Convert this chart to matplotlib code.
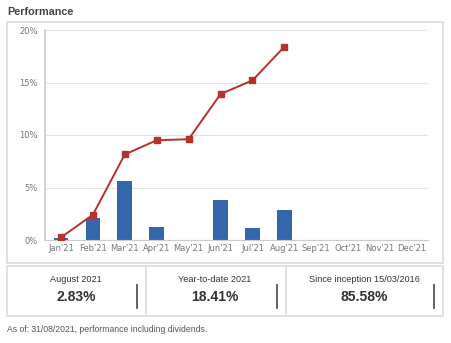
import matplotlib
matplotlib.use("Agg")
import matplotlib.pyplot as plt
from matplotlib.patches import Rectangle
from matplotlib.lines import Line2D
import numpy as np

months = ["Jan'21", "Feb'21", "Mar'21", "Apr'21", "May'21", "Jun'21",
          "Jul'21", "Aug'21", "Sep'21", "Oct'21", "Nov'21", "Dec'21"]
monthly = [0.2, 2.1, 5.6, 1.2, 0.0, 3.85, 1.15, 2.83]
cumulative = [0.25, 2.4, 8.15, 9.5, 9.6, 13.9, 15.2, 18.41]
yticks = [0, 5, 10, 15, 20]
ytick_labels = ["0%", "5%", "10%", "15%", "20%"]
stat_labels = ["August 2021", "Year-to-date 2021", "Since inception 15/03/2016"]
stat_values = ["2.83%", "18.41%", "85.58%"]
title = "Performance"
footer = "As of: 31/08/2021, performance including dividends."

W, H = 451, 343
fig = plt.figure(figsize=(W / 100, H / 100), dpi=100)
fig.patch.set_facecolor("white")

def fx(x):
    return x / W

def fy(y):
    return 1 - y / H

BORDER = "#dcdcdc"
# outer chart box
fig.patches.append(Rectangle((fx(7), fy(263)), fx(443) - fx(7), fy(22) - fy(263),
                             transform=fig.transFigure, fill=False, edgecolor=BORDER, lw=1.2))
# stats box
fig.patches.append(Rectangle((fx(7), fy(316)), fx(443) - fx(7), fy(266) - fy(316),
                             transform=fig.transFigure, fill=False, edgecolor=BORDER, lw=1.2))
for xd in [145.7, 285.7]:
    fig.add_artist(Line2D([fx(xd), fx(xd)], [fy(266), fy(316)], transform=fig.transFigure,
                          color=BORDER, lw=1.2))
for xb in [137, 277, 434]:
    fig.add_artist(Line2D([fx(xb), fx(xb)], [fy(285), fy(308)], transform=fig.transFigure,
                          color="#555555", lw=1.3))

centers = [76, 215, 364]
for cx, lab, val in zip(centers, stat_labels, stat_values):
    fig.text(fx(cx), fy(279), lab, ha="center", va="center", fontsize=6.6,
             family="Liberation Sans", color="#333333")
    fig.text(fx(cx), fy(297), val, ha="center", va="center", fontsize=10,
             family="Liberation Sans", weight="bold", color="#333333")

fig.text(fx(7), fy(12), title, ha="left", va="center", fontsize=7.8,
         family="Liberation Sans", weight="bold", color="#444444")
fig.text(fx(7), fy(330), footer, ha="left", va="center", fontsize=6.2,
         family="Liberation Sans", color="#555555")

ax = fig.add_axes([fx(45), fy(240), fx(428) - fx(45), fy(30) - fy(240)])
x = np.arange(len(months))
ax.bar(x[:len(monthly)], monthly, width=0.46, color="#3566ab", zorder=2)
ax.plot(x[:len(cumulative)], cumulative, color="#b5312b", lw=1.4, marker="s",
        markersize=4.5, zorder=3)
ax.set_xlim(-0.5, len(months) - 0.5)
ax.set_ylim(0, 20)
ax.set_yticks(yticks)
ax.set_yticklabels(ytick_labels)
ax.set_xticks(x)
ax.set_xticklabels(months)
ax.tick_params(axis="both", length=0, labelsize=6, colors="#777777")
ax.tick_params(axis="y", pad=5)
ax.tick_params(axis="x", pad=3)
ax.grid(axis="y", color="#e4e4e4", lw=0.8, zorder=0)
for s in ["top", "right"]:
    ax.spines[s].set_visible(False)
ax.spines["left"].set_color("#cccccc")
ax.spines["bottom"].set_color("#cccccc")
ax.spines["left"].set_linewidth(1.2)
ax.spines["bottom"].set_linewidth(0.8)

fig.savefig("out.png", dpi=100)
